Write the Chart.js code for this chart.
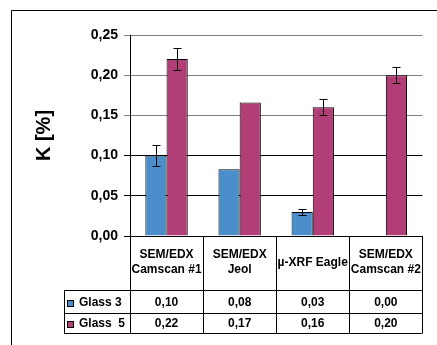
<!DOCTYPE html>
<html>
<head>
<meta charset="utf-8">
<script src="https://cdn.jsdelivr.net/npm/chart.js@4"></script>
<style>
  html, body { margin: 0; padding: 0; background: #fff; overflow: hidden; }
  canvas { display: block; }
</style>
</head>
<body>
<canvas id="grafico" width="440" height="345"></canvas>
<script>
// Datos
const categorias = [['SEM/EDX', 'Camscan #1'], ['SEM/EDX', 'Jeol'], 'µ-XRF Eagle', ['SEM/EDX', 'Camscan #2']];
const nombresSeries = ['Glass 3', 'Glass  5'];
const glass3 = [0.10, 0.083, 0.03, 0.00];
const glass5 = [0.22, 0.166, 0.16, 0.20];
const errorGlass3 = [0.013, 0, 0.004, 0];
const errorGlass5 = [0.014, 0, 0.010, 0.010];
const ticksY = [0, 0.05, 0.10, 0.15, 0.20, 0.25];
const coloresSeries = ['#4a8fcc', '#b23e77'];

const fuente = 'Arial, "Liberation Sans", sans-serif';
const fmt = v => v.toFixed(2).replace('.', ',');

// Marco exterior del área del gráfico
const marcoPlugin = {
  id: 'marco',
  beforeDraw(chart) {
    const c = chart.ctx;
    c.save();
    c.fillStyle = '#fff';
    c.fillRect(0, 0, chart.width, chart.height);
    c.strokeStyle = '#000';
    c.lineWidth = 1;
    c.beginPath();
    c.moveTo(11.5, chart.height);
    c.lineTo(11.5, 10.5);
    c.lineTo(chart.width, 10.5);
    c.stroke();
    c.restore();
  }
};

// Barras de error
const barrasErrorPlugin = {
  id: 'barrasError',
  afterDatasetsDraw(chart) {
    const c = chart.ctx, y = chart.scales.y;
    const errores = [errorGlass3, errorGlass5];
    c.save();
    c.strokeStyle = '#000';
    c.lineWidth = 1;
    chart.data.datasets.forEach((ds, i) => {
      chart.getDatasetMeta(i).data.forEach((bar, j) => {
        const e = errores[i][j];
        if (!e) return;
        const x = Math.round(bar.x) + 0.5;
        const y1 = Math.round(y.getPixelForValue(ds.data[j] + e)) + 0.5;
        const y2 = Math.round(y.getPixelForValue(ds.data[j] - e)) + 0.5;
        c.beginPath();
        c.moveTo(x, y1); c.lineTo(x, y2);
        c.moveTo(x - 4, y1); c.lineTo(x + 4, y1);
        c.moveTo(x - 4, y2); c.lineTo(x + 4, y2);
        c.stroke();
      });
    });
    c.restore();
  }
};

// Tabla de datos bajo el eje X
const tablaPlugin = {
  id: 'tabla',
  afterDraw(chart) {
    const c = chart.ctx, area = chart.chartArea, ejeX = chart.scales.x;
    const n = categorias.length;
    const ancho = (area.right - area.left) / n;
    const filas = [ejeX.bottom, ejeX.bottom + 23, ejeX.bottom + 43];
    const izq = 64;
    c.save();
    c.strokeStyle = '#000';
    c.lineWidth = 1;
    c.beginPath();
    for (let k = 0; k <= n; k++) {
      const x = Math.round(area.left + k * ancho) + 0.5;
      c.moveTo(x, area.bottom);
      c.lineTo(x, filas[2]);
    }
    filas.forEach(f => {
      c.moveTo(izq, Math.round(f) + 0.5);
      c.lineTo(area.right, Math.round(f) + 0.5);
    });
    c.moveTo(izq + 0.5, filas[0]);
    c.lineTo(izq + 0.5, filas[2]);
    c.stroke();

    c.font = 'bold 12px ' + fuente;
    c.textBaseline = 'middle';
    chart.data.datasets.forEach((ds, i) => {
      const yc = (filas[i] + filas[i + 1]) / 2 + 1;
      // clave de leyenda
      c.fillStyle = ds.backgroundColor;
      c.fillRect(67, Math.round(yc) - 3, 7, 7);
      c.strokeRect(67.5, Math.round(yc) - 2.5, 6, 6);
      c.fillStyle = '#000';
      c.textAlign = 'left';
      c.fillText(ds.label, 79, yc);
      c.textAlign = 'center';
      ds.data.forEach((v, j) => {
        c.fillText(fmt(v), ejeX.getPixelForValue(j), yc);
      });
    });
    c.restore();
  }
};

new Chart(document.getElementById('grafico'), {
  type: 'bar',
  data: {
    labels: categorias,
    datasets: [{
      label: nombresSeries[0],
      data: glass3,
      backgroundColor: coloresSeries[0],
      borderColor: '#000',
      borderWidth: 1,
      categoryPercentage: 0.58,
      barPercentage: 1
    }, {
      label: nombresSeries[1],
      data: glass5,
      backgroundColor: coloresSeries[1],
      borderColor: '#000',
      borderWidth: 1,
      categoryPercentage: 0.58,
      barPercentage: 1
    }]
  },
  options: {
    responsive: false,
    animation: false,
    devicePixelRatio: 1,
    layout: { padding: { top: 35, right: 1, bottom: 55, left: 0 } },
    plugins: {
      legend: { display: false },
      tooltip: { enabled: false }
    },
    scales: {
      x: {
        grid: { display: false, drawTicks: false },
        border: { display: true, color: '#000', width: 1 },
        ticks: {
          color: '#000',
          font: { family: fuente, size: 12, weight: 'bold', lineHeight: 1.25 },
          padding: 19,
          crossAlign: 'center',
          maxRotation: 0,
          autoSkip: false
        },
        afterFit: axis => { axis.height = 54; }
      },
      y: {
        min: 0,
        max: 0.25,
        afterBuildTicks: axis => { axis.ticks = ticksY.map(v => ({ value: v })); },
        grid: {
          color: ctx => (ctx.tick && ctx.tick.value >= 0.15 ? '#808080' : '#000'),
          lineWidth: 1,
          drawTicks: true,
          tickLength: 6
        },
        border: { display: true, color: '#000', width: 1 },
        ticks: {
          color: '#000',
          font: { family: fuente, size: 14, weight: 'bold' },
          padding: 6,
          callback: v => fmt(v)
        },
        title: {
          display: true,
          text: 'K [%]',
          color: '#000',
          font: { family: fuente, size: 20, weight: 'bold' },
          padding: { top: 32, bottom: 0 }
        },
        afterFit: axis => { axis.width = 130; }
      }
    }
  },
  plugins: [marcoPlugin, barrasErrorPlugin, tablaPlugin]
});
</script>
</body>
</html>
